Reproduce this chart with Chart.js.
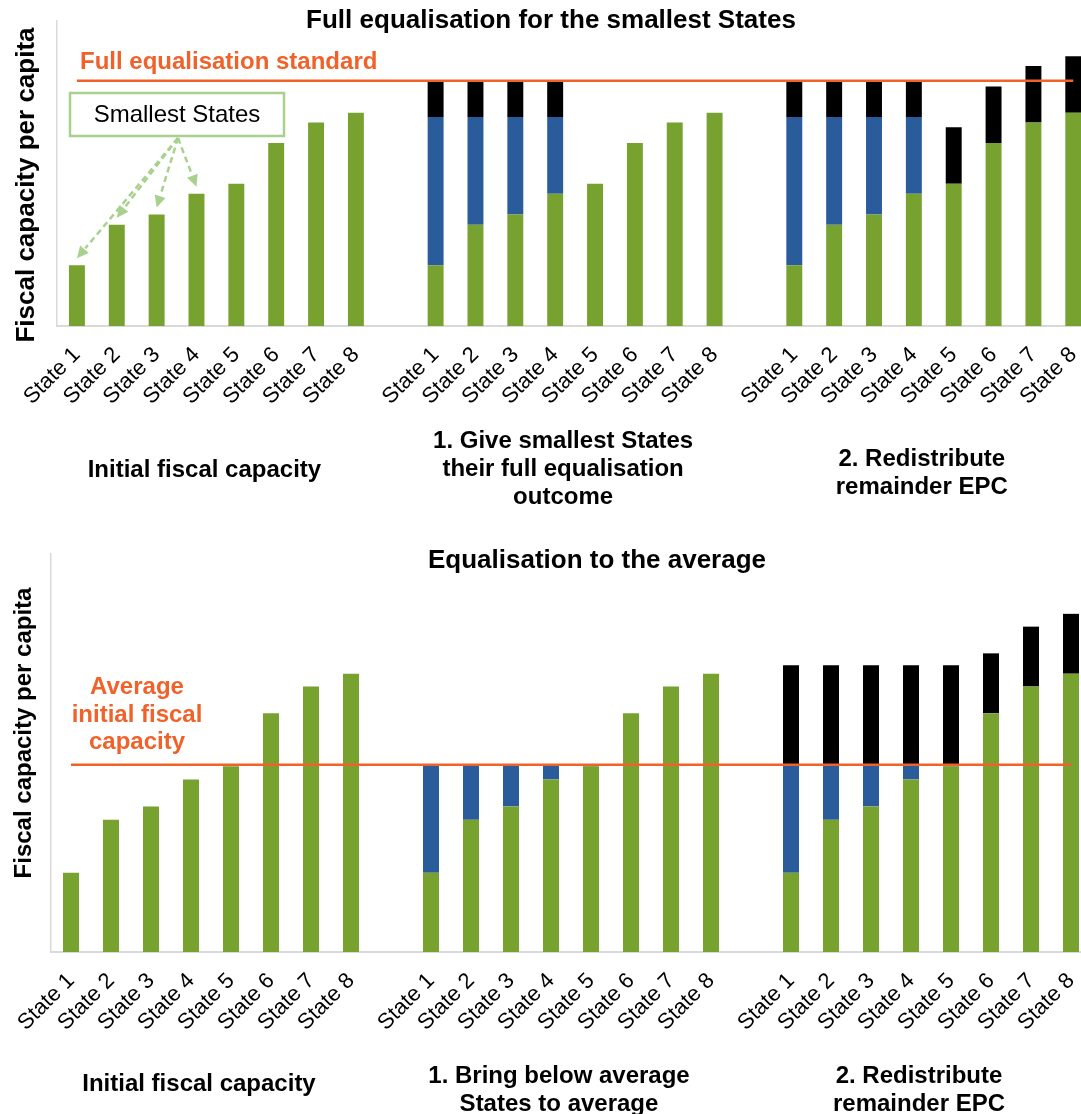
<!DOCTYPE html>
<html>
<head>
<meta charset="utf-8">
<script src="https://cdn.jsdelivr.net/npm/chart.js@4.4.1/dist/chart.umd.min.js"></script>
<style>
  body { margin: 0; background: #fff; overflow: hidden; width: 1081px; height: 1114px; position: relative; }
  #top, #bottom { position: absolute; left: 0; }
  #top { top: 0; }
  #bottom { top: 540px; }
</style>
</head>
<body>
<canvas id="top" width="1100" height="530"></canvas>
<canvas id="bottom" width="1100" height="574"></canvas>
<script>
// chart values
const states = ['State 1', 'State 2', 'State 3', 'State 4', 'State 5', 'State 6', 'State 7', 'State 8'];
const initialCapacity = [28.5, 47.5, 52.3, 62, 66.7, 85.8, 95.4, 100];

// top chart: full equalisation for the smallest States
const fullStandard = 115;
const smallestTopUp = [69.5, 50.5, 45.7, 36, null, null, null, null];
const smallestRemainder = [17, 17, 17, 17, null, null, null, null];
const redistributedFull = [17, 17, 17, 17, 26.5, 26.5, 26.5, 26.5];

// bottom chart: equalisation to the average
const averageLevel = 67.3;
const belowAverageTopUp = [38.8, 19.8, 15, 5.3, 0.6, null, null, null];
const redistributedAverage = [35.7, 35.7, 35.7, 35.7, 35.7, 21.5, 21.5, 21.5];

const noBars = [null, null, null, null, null, null, null, null];

const GREEN = '#78A22F';
const BLUE = '#2A5B9B';
const BLACK = '#000000';
const ORANGE = '#F0622A';
const FONT = 'Arial, "Liberation Sans", sans-serif';

// three groups of eight with an empty slot between them
const joinGroups = (a, b, c) => [...a, null, ...b, null, ...c];
const labels = [...states, '', ...states, '', ...states];

const barSet = (label, data, color) => ({
  type: 'bar',
  label,
  data,
  backgroundColor: color,
  borderWidth: 0,
  barPercentage: 0.4,
  categoryPercentage: 1,
  order: 1,
});

const lineSet = (label, level) => ({
  type: 'line',
  label,
  data: labels.map(() => level),
  borderColor: ORANGE,
  borderWidth: 2.5,
  pointRadius: 0,
  fill: false,
  order: 0,
});

const baseOptions = (padding) => ({
  responsive: false,
  animation: false,
  devicePixelRatio: 1,
  layout: { padding },
  plugins: { legend: { display: false }, tooltip: { enabled: false }, title: { display: false } },
  scales: {
    x: {
      stacked: true,
      offset: true,
      grid: { display: false },
      border: { display: true, color: '#D9D9D9', width: 2 },
      ticks: {
        autoSkip: false,
        minRotation: 45,
        maxRotation: 45,
        padding: 8,
        color: '#000',
        font: { family: FONT, size: 22 },
      },
      afterFit: (s) => { s.height = 95; },
    },
    y: {
      stacked: true,
      min: 0,
      max: 143,
      grid: { display: false },
      border: { display: true, color: '#D9D9D9', width: 1.5 },
      ticks: { display: false },
      afterFit: (s) => { s.width = 0; },
    },
  },
});

// small drawing helpers for the annotation text
function text(ctx, str, x, y, size, opts = {}) {
  ctx.save();
  ctx.font = `${opts.bold === false ? '' : 'bold '}${size}px ${FONT}`;
  ctx.fillStyle = opts.color || '#000';
  ctx.textAlign = opts.align || 'center';
  ctx.textBaseline = opts.baseline || 'middle';
  ctx.fillText(str, x, y);
  ctx.restore();
}

function yTitle(ctx, x, y, size) {
  ctx.save();
  ctx.translate(x, y);
  ctx.rotate(-Math.PI / 2);
  text(ctx, 'Fiscal capacity per capita', 0, 0, size);
  ctx.restore();
}

function groupCenters(xScale) {
  return [[0, 7], [9, 16], [18, 25]].map(([a, b]) => (xScale.getPixelForValue(a) + xScale.getPixelForValue(b)) / 2 - 12);
}

function arrow(ctx, x0, y0, x1, y1) {
  const ang = Math.atan2(y1 - y0, x1 - x0);
  const head = 13;
  ctx.beginPath();
  ctx.setLineDash([6, 4]);
  ctx.moveTo(x0, y0);
  ctx.lineTo(x1 - Math.cos(ang) * head, y1 - Math.sin(ang) * head);
  ctx.stroke();
  ctx.setLineDash([]);
  ctx.beginPath();
  ctx.moveTo(x1, y1);
  ctx.lineTo(x1 - head * Math.cos(ang - 0.45), y1 - head * Math.sin(ang - 0.45));
  ctx.lineTo(x1 - head * Math.cos(ang + 0.45), y1 - head * Math.sin(ang + 0.45));
  ctx.closePath();
  ctx.fill();
}

const topNotes = {
  id: 'topNotes',
  afterDraw(chart) {
    const { ctx, chartArea: a, scales: { x, y } } = chart;
    text(ctx, 'Full equalisation for the smallest States', 551, 21, 26);
    yTitle(ctx, 27, 185, 26);

    const lineY = y.getPixelForValue(fullStandard);
    text(ctx, 'Full equalisation standard', a.left + 23, lineY - 18, 24, { color: ORANGE, align: 'left' });

    // "Smallest States" callout with arrows to the first four bars
    const box = { x: a.left + 13, y: a.top + 72, w: 214, h: 43 };
    const green = chart.getDatasetMeta(0).data;
    ctx.save();
    ctx.strokeStyle = '#A9D18E';
    ctx.fillStyle = '#A9D18E';
    ctx.lineWidth = 2.5;
    const sx = box.x + box.w / 2 + 1, sy = box.y + box.h + 2;
    for (let i = 0; i < 4; i++) {
      arrow(ctx, sx, sy, green[i].x, green[i].y - 7);
    }
    ctx.fillStyle = '#fff';
    ctx.fillRect(box.x, box.y, box.w, box.h);
    ctx.strokeRect(box.x, box.y, box.w, box.h);
    ctx.restore();
    text(ctx, 'Smallest States', box.x + box.w / 2, box.y + box.h / 2 + 1, 24, { bold: false });

    const [c1, c2, c3] = groupCenters(x);
    text(ctx, 'Initial fiscal capacity', c1, 470, 24);
    text(ctx, '1. Give smallest States', c2, 441, 24);
    text(ctx, 'their full equalisation', c2, 469, 24);
    text(ctx, 'outcome', c2, 497, 24);
    text(ctx, '2. Redistribute', c3, 459, 24);
    text(ctx, 'remainder EPC', c3, 487, 24);
  },
};

const bottomNotes = {
  id: 'bottomNotes',
  afterDraw(chart) {
    const { ctx, chartArea: a, scales: { x, y } } = chart;
    text(ctx, 'Equalisation to the average', 597, 21, 26);
    yTitle(ctx, 24, 193, 24);

    const lineY = y.getPixelForValue(averageLevel);
    const cx = a.left + 86;
    text(ctx, 'Average', cx, lineY - 71, 24, { color: ORANGE, baseline: 'alphabetic' });
    text(ctx, 'initial fiscal', cx, lineY - 43, 24, { color: ORANGE, baseline: 'alphabetic' });
    text(ctx, 'capacity', cx, lineY - 16, 24, { color: ORANGE, baseline: 'alphabetic' });

    const [c1, c2, c3] = groupCenters(x);
    text(ctx, 'Initial fiscal capacity', c1, 544, 24);
    text(ctx, '1. Bring below average', c2, 536, 24);
    text(ctx, 'States to average', c2, 564, 24);
    text(ctx, '2. Redistribute', c3, 536, 24);
    text(ctx, 'remainder EPC', c3, 564, 24);
  },
};

new Chart(document.getElementById('top').getContext('2d'), {
  data: {
    labels,
    datasets: [
      barSet('Initial fiscal capacity', joinGroups(initialCapacity, initialCapacity, initialCapacity), GREEN),
      barSet('Top-up to standard', joinGroups(noBars, smallestTopUp, smallestTopUp), BLUE),
      barSet('Remainder EPC', joinGroups(noBars, smallestRemainder, redistributedFull), BLACK),
      lineSet('Full equalisation standard', fullStandard),
    ],
  },
  options: baseOptions({ left: 57, top: 21, right: 3, bottom: 109 }),
  plugins: [topNotes],
});

new Chart(document.getElementById('bottom').getContext('2d'), {
  data: {
    labels,
    datasets: [
      barSet('Initial fiscal capacity', joinGroups(initialCapacity, initialCapacity, initialCapacity), GREEN),
      barSet('Top-up to average', joinGroups(noBars, belowAverageTopUp, belowAverageTopUp), BLUE),
      barSet('Remainder EPC', joinGroups(noBars, noBars, redistributedAverage), BLACK),
      lineSet('Average initial fiscal capacity', averageLevel),
    ],
  },
  options: baseOptions({ left: 51, top: 14, right: 9, bottom: 67 }),
  plugins: [bottomNotes],
});
</script>
</body>
</html>
